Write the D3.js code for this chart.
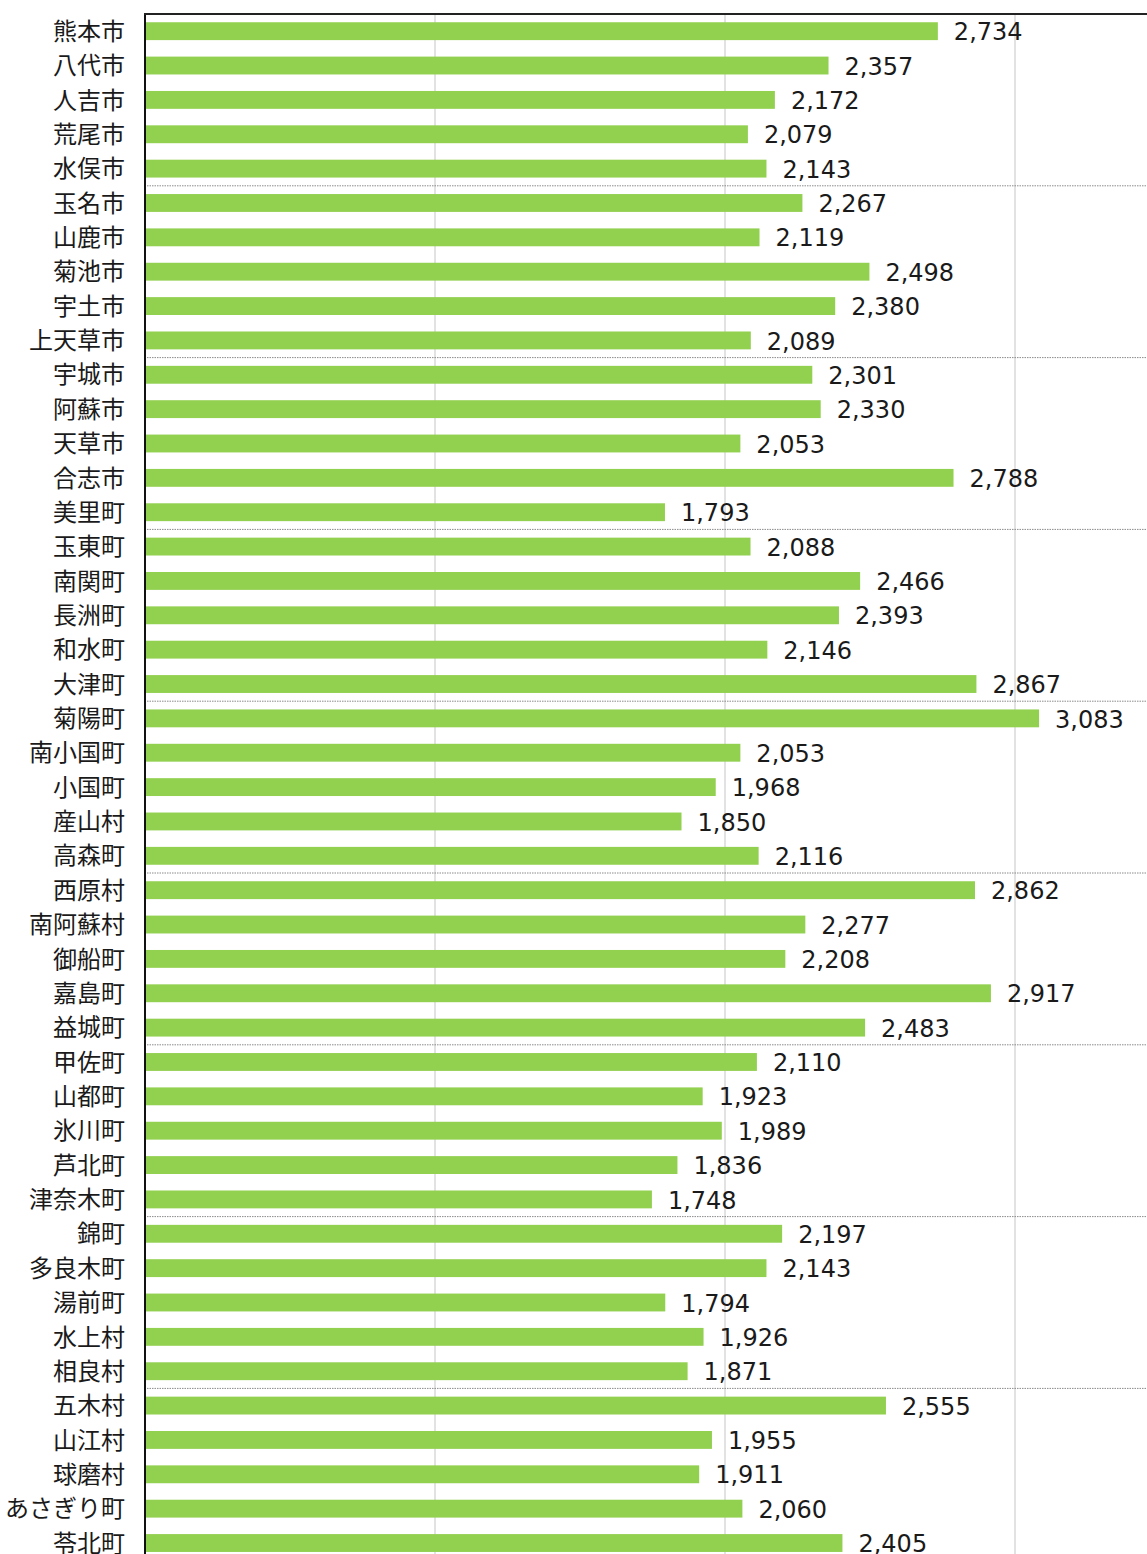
<!DOCTYPE html>
<html><head><meta charset="utf-8">
<script src="https://cdn.jsdelivr.net/npm/d3@7"></script>
<style>body{margin:0;background:#fff}svg{display:block}</style>
</head><body>
<script>
const categories = ["熊本市","八代市","人吉市","荒尾市","水俣市","玉名市","山鹿市","菊池市","宇土市","上天草市",
"宇城市","阿蘇市","天草市","合志市","美里町","玉東町","南関町","長洲町","和水町","大津町",
"菊陽町","南小国町","小国町","産山村","高森町","西原村","南阿蘇村","御船町","嘉島町","益城町",
"甲佐町","山都町","氷川町","芦北町","津奈木町","錦町","多良木町","湯前町","水上村","相良村",
"五木村","山江村","球磨村","あさぎり町","苓北町"];
const values = [2734,2357,2172,2079,2143,2267,2119,2498,2380,2089,
2301,2330,2053,2788,1793,2088,2466,2393,2146,2867,
3083,2053,1968,1850,2116,2862,2277,2208,2917,2483,
2110,1923,1989,1836,1748,2197,2143,1794,1926,1871,
2555,1955,1911,2060,2405];
const gridTicks = [1000,2000,3000];

const W = 1147, H = 1554;
const mLeft = 145, mTop = 14;
const rowStep = 34.36;
const svg = d3.select("body").append("svg").attr("width", W).attr("height", H);

const x = d3.scaleLinear().domain([0,3500]).range([mLeft, mLeft + 1015]);
const y = d3.scaleBand().domain(categories).range([mTop, mTop + rowStep*categories.length])
  .paddingInner(0.48).paddingOuter(0.24);

// gridlines
svg.append("g").selectAll("line").data(gridTicks).join("line")
  .attr("x1", d=>x(d)).attr("x2", d=>x(d)).attr("y1", mTop).attr("y2", H)
  .attr("stroke", "#d9d9d9").attr("stroke-width", 1.5);

// dotted separators between groups of 5
const seps = d3.range(5, categories.length, 5);
svg.append("g").selectAll("line").data(seps).join("line")
  .attr("x1", mLeft+2).attr("x2", W)
  .attr("y1", i=>mTop + y.step()*i).attr("y2", i=>mTop + y.step()*i)
  .attr("stroke", "#8a8a8a").attr("stroke-width", 1).attr("stroke-dasharray", "1.5,1");

// bars
svg.append("g").selectAll("rect").data(values).join("rect")
  .attr("x", x(0)).attr("y", (d,i)=>y(categories[i]))
  .attr("width", d=>x(d)-x(0)).attr("height", y.bandwidth())
  .attr("fill", "#92d050");

// value labels
svg.append("g").selectAll("text").data(values).join("text")
  .attr("x", d=>x(d)+16).attr("y", (d,i)=>y(categories[i])+y.bandwidth()/2)
  .attr("dy", "0.38em")
  .attr("font-family", "'DejaVu Sans', Verdana, sans-serif").attr("font-size", 24)
  .attr("fill", "#1a1a1a")
  .text(d=>d3.format(",")(d));

// category axis
const yAxis = d3.axisLeft(y).tickSize(0).tickPadding(20);
const ga = svg.append("g").attr("transform", `translate(${mLeft},0)`).call(yAxis);
ga.select(".domain").remove();
ga.selectAll("text").attr("font-family", "'Noto Sans CJK JP', sans-serif").attr("font-size", 24)
  .attr("fill", "#1a1a1a").attr("dy", "0.36em");

// axis line + top border
svg.append("line").attr("x1", mLeft).attr("x2", mLeft).attr("y1", mTop-1).attr("y2", H)
  .attr("stroke", "#111").attr("stroke-width", 2);
svg.append("line").attr("x1", mLeft-1).attr("x2", W).attr("y1", mTop).attr("y2", mTop)
  .attr("stroke", "#222").attr("stroke-width", 2);
</script>
</body></html>
